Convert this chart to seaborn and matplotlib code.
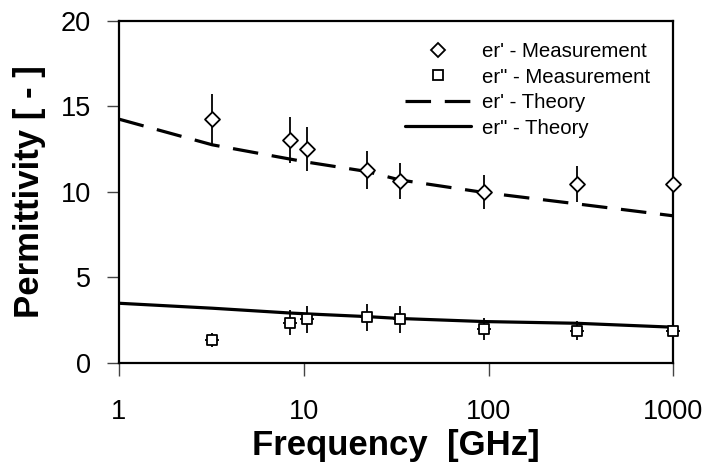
import matplotlib
matplotlib.use("Agg")
import matplotlib.pyplot as plt
import seaborn as sns
import numpy as np
import pandas as pd
from matplotlib.lines import Line2D

# ---- data ----
theory_freq = [1, 3.2, 8.4, 10.4, 22, 33, 95, 300, 1000]
theory_er1 = [14.25, 12.75, 11.92, 11.74, 11.19, 10.70, 9.96, 9.30, 8.60]
theory_er2 = [3.49, 3.20, 2.92, 2.87, 2.71, 2.60, 2.42, 2.32, 2.09]

meas_freq = [3.2, 8.4, 10.4, 22, 33, 95, 300, 1000]
meas_er1 = [14.25, 13.04, 12.49, 11.29, 10.64, 9.98, 10.45, 10.45]
meas_er1_err = [1.45, 1.33, 1.28, 1.11, 1.05, 1.00, 1.07, 1.00]
meas_er2 = [1.35, 2.36, 2.55, 2.67, 2.55, 1.99, 1.89, 1.89]
meas_er2_err = [0.43, 0.71, 0.78, 0.78, 0.78, 0.62, 0.56, 0.50]
freq_rel_err = 0.09

x_ticks = [1, 10, 100, 1000]
x_ticklabels = ["1", "10", "100", "1000"]
y_ticks = [0, 5, 10, 15, 20]
legend_labels = ["er' - Measurement", "er\" - Measurement",
                 "er' - Theory", "er\" - Theory"]

sns.set_style("ticks")
plt.rcParams["font.family"] = ["Liberation Sans", "DejaVu Sans"]
for k in ["text.color", "axes.labelcolor", "xtick.color", "ytick.color",
          "axes.edgecolor"]:
    plt.rcParams[k] = "black"

fig = plt.figure(figsize=(7.08, 4.72), dpi=100)
ax = fig.add_axes([0.168, 0.231, 0.783, 0.725])

df_th = pd.DataFrame({"f": theory_freq, "e1": theory_er1, "e2": theory_er2})
df_m = pd.DataFrame({"f": meas_freq, "e1": meas_er1, "e2": meas_er2})

mf = np.array(meas_freq, dtype=float)
xerr = [mf - mf / (1 + freq_rel_err), mf * freq_rel_err]

for yv, ye in [(meas_er1, meas_er1_err), (meas_er2, meas_er2_err)]:
    eb = ax.errorbar(meas_freq, yv, yerr=ye, xerr=xerr, fmt="none",
                     ecolor="black", elinewidth=1.3, capsize=0, zorder=3)
    for c in eb.lines[2]:
        c.set_clip_on(False)

sns.lineplot(data=df_th, x="f", y="e1", ax=ax, color="black", lw=2.3,
             zorder=2, label="_nolegend_")
ax.lines[-1].set_dashes([8, 4.3])
sns.lineplot(data=df_th, x="f", y="e2", ax=ax, color="black", lw=2.3,
             zorder=2, label="_nolegend_")

sns.scatterplot(data=df_m, x="f", y="e1", ax=ax, marker="D", s=58,
                facecolor="white", edgecolor="black", linewidth=1.3,
                zorder=4, clip_on=False)
sns.scatterplot(data=df_m, x="f", y="e2", ax=ax, marker="s", s=62,
                facecolor="white", edgecolor="black", linewidth=1.3,
                zorder=4, clip_on=False)

ax.set_xscale("log")
ax.set_xlim(1, 1000)
ax.set_ylim(0, 20)
ax.set_xticks(x_ticks)
ax.set_xticklabels(x_ticklabels)
ax.xaxis.set_minor_locator(matplotlib.ticker.NullLocator())
ax.set_yticks(y_ticks)
ax.tick_params(axis="both", direction="out", length=9, width=1.0,
               labelsize=19.5, color="#444444")
ax.tick_params(axis="x", pad=17)
ax.tick_params(axis="y", pad=11)
for sp in ax.spines.values():
    sp.set_visible(True)
    sp.set_linewidth(1.6)
    sp.set_color("black")

ax.set_xlabel("Frequency  [GHz]", fontsize=25, fontweight="bold", labelpad=3)
ax.set_ylabel("Permittivity [ - ]", fontsize=25, fontweight="bold", labelpad=11)

handles = [
    Line2D([], [], ls="none", marker="D", ms=7, mfc="white", mec="black", mew=1.3),
    Line2D([], [], ls="none", marker="s", ms=6.5, mfc="white", mec="black", mew=1.3),
    Line2D([], [], color="black", lw=2.3, dashes=[8, 4.3]),
    Line2D([], [], color="black", lw=2.3),
]
ax.legend(handles, legend_labels, loc="upper right", frameon=False,
          fontsize=14.7, handlelength=3.2, handletextpad=0.55,
          labelspacing=0.32, bbox_to_anchor=(0.958, 0.938),
          borderaxespad=0, borderpad=0)

fig.savefig("out.png", dpi=100)
